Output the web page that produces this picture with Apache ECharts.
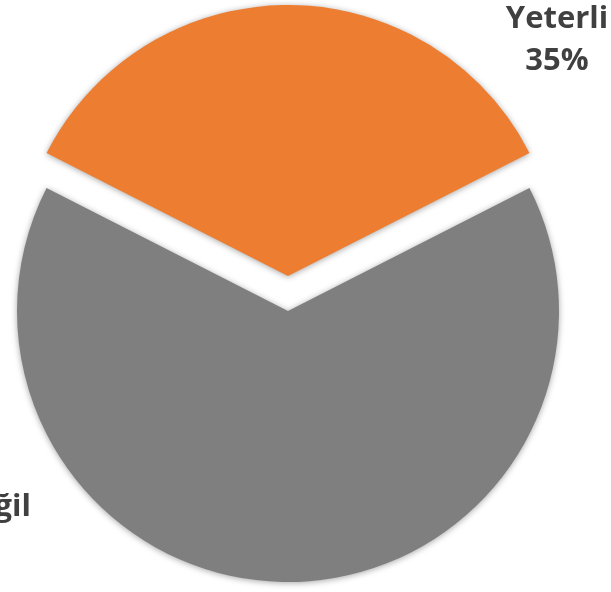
<!DOCTYPE html>
<html>
<head>
<meta charset="utf-8">
<script src="https://cdn.jsdelivr.net/npm/echarts@6/dist/echarts.min.js"></script>
<style>
  html, body { margin: 0; padding: 0; background: #ffffff; }
  #chart { width: 611px; height: 592px; }
</style>
</head>
<body>
<div id="chart"></div>
<script>
// Survey answer shares
const categories = ['Yeterli', 'Yeterli Değil'];
const shares = [35, 65];
const sliceColors = ['#ED7D31', '#7F7F7F'];

const chart = echarts.init(document.getElementById('chart'), null, { renderer: 'canvas' });

const pieCenter = [288, 311];
const pieRadius = 271;
const explode = 35;          // the "Yeterli" slice is pulled out upwards
const startAngle = 90 + shares[0] * 3.6 / 2;

const labelFont = { family: 'Open Sans', weight: 'bold', size: 31, lineHeight: 42 };

// width of a label line, used to right-align the clipped left label
function textWidth(str) {
  const c = document.createElement('canvas').getContext('2d');
  c.font = labelFont.weight + ' ' + labelFont.size + 'px "' + labelFont.family + '"';
  return c.measureText(str).width;
}

// Label block centres
const labelAnchors = [
  { x: 557, y: 40 },
  { x: 31 - textWidth(categories[1]) / 2, y: 528 }
];

// One pie per slice so each slice can sit at its own centre
function sliceSeries(idx, center) {
  return {
    type: 'pie',
    center: center,
    radius: [0, pieRadius],
    startAngle: startAngle,
    clockwise: true,
    silent: true,
    emphasis: { disabled: true },
    label: {
      show: true,
      position: 'outside',
      formatter: p => p.name + '\n' + p.value + '%',
      fontFamily: labelFont.family,
      fontWeight: labelFont.weight,
      fontSize: labelFont.size,
      lineHeight: labelFont.lineHeight,
      color: '#404040',
      align: 'center'
    },
    labelLine: { show: false },
    labelLayout: params => ({
      x: labelAnchors[params.dataIndex].x,
      y: labelAnchors[params.dataIndex].y,
      align: 'center',
      verticalAlign: 'middle'
    }),
    data: categories.map((name, i) => ({
      name: name,
      value: shares[i],
      label: { show: i === idx },
      itemStyle: i === idx ? {
        color: sliceColors[i],
        shadowBlur: 6,
        shadowColor: 'rgba(0,0,0,0.35)',
        shadowOffsetY: 1
      } : { color: 'rgba(0,0,0,0)' }
    }))
  };
}

chart.setOption({
  animation: false,
  backgroundColor: '#ffffff',
  series: [
    sliceSeries(1, pieCenter),
    sliceSeries(0, [pieCenter[0], pieCenter[1] - explode])
  ]
});
</script>
</body>
</html>
